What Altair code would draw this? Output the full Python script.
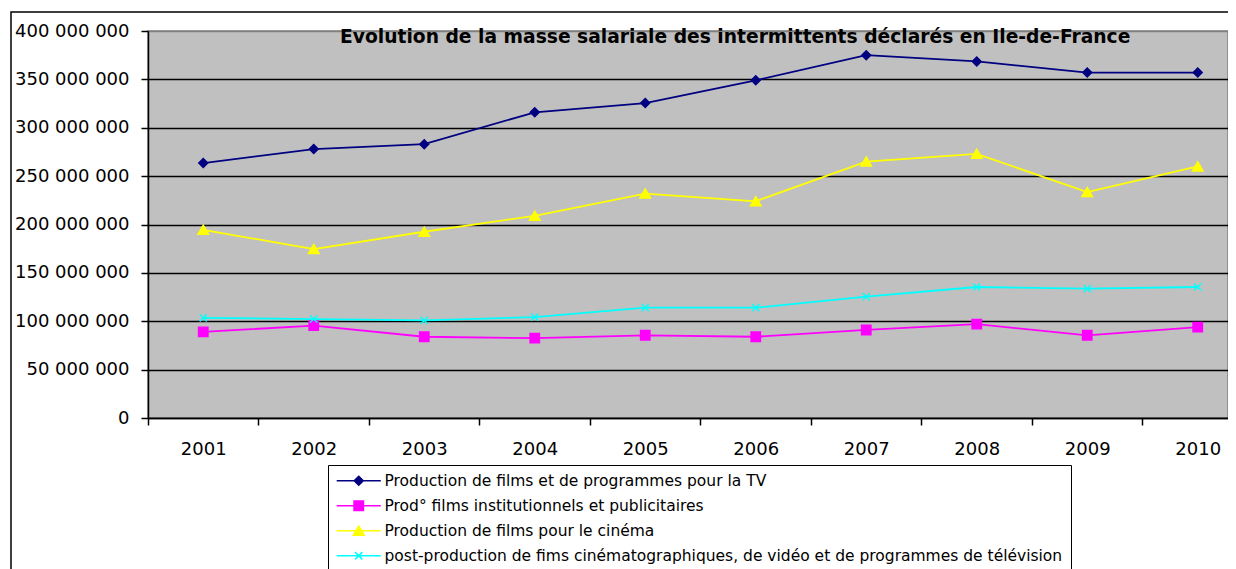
import altair as alt
import pandas as pd

years = [2001, 2002, 2003, 2004, 2005, 2006, 2007, 2008, 2009, 2010]
series_names = [
    "Production de films et de programmes pour la TV",
    "Prod° films institutionnels et publicitaires",
    "Production de films pour le cinéma",
    "post-production de fims cinématographiques, de vidéo et de programmes de télévision",
]
tv = [263.5e6, 278e6, 283e6, 316e6, 325.5e6, 349e6, 375e6, 368.5e6, 357e6, 357e6]
prod_inst = [89e6, 95.5e6, 84e6, 82.5e6, 85.5e6, 84e6, 91e6, 97e6, 85.5e6, 94e6]
cinema = [194.5e6, 174.5e6, 192.5e6, 209e6, 232e6, 224e6, 265e6, 273e6, 233.5e6, 260e6]
post_prod = [103.5e6, 102.3e6, 101e6, 104.3e6, 114e6, 114e6, 125.4e6, 135.4e6, 133.7e6, 135.4e6]

series_values = [tv, prod_inst, cinema, post_prod]
colors = ["#000080", "#FF00FF", "#FFFF00", "#00FFFF"]

# marker shapes (plot) and legend shapes (marker with a line through it)
shapes = [
    "M0,-1L1,0L0,1L-1,0Z",
    "M-1.05,-1.05L1.05,-1.05L1.05,1.05L-1.05,1.05Z",
    "M0,-1.05L1.2,1L-1.2,1Z",
    "M-0.8,-0.8L0.8,0.8M-0.8,0.8L0.8,-0.8",
]
legend_shapes = ["M-4.9,0L4.9,0" + s for s in shapes]

rows = []
for name, vals in zip(series_names, series_values):
    for y, v in zip(years, vals):
        rows.append({"year": y, "series": name, "value": v})
df = pd.DataFrame(rows)

x_ticks = [2000.5 + 0.5 * i for i in range(20)]

x_enc = alt.X(
    "year:Q",
    scale=alt.Scale(domain=[2000.5, 2010.274], nice=False, zero=False),
    axis=alt.Axis(
        title=None,
        values=x_ticks,
        labelExpr="datum.value % 1 === 0 ? toString(datum.value) : ''",
        tickOpacity={"condition": {"test": "datum.value % 1 === 0", "value": 0}, "value": 1},
        grid=False,
        labelOverlap=False,
        labelFlush=False,
        labelFont="DejaVu Sans",
        labelFontSize=18,
        labelColor="black",
        labelPadding=15,
        tickColor="black",
        tickSize=7,
        tickWidth=1.5,
        domainColor="black",
        domainWidth=1.5,
    ),
)
y_enc = alt.Y(
    "value:Q",
    scale=alt.Scale(domain=[0, 400e6], nice=False),
    axis=alt.Axis(
        title=None,
        values=[i * 50e6 for i in range(9)],
        format=",d",
        grid=True,
        gridColor={"condition": {"test": "datum.value >= 400000000", "value": "#808080"}, "value": "black"},
        gridWidth=1.3,
        labelFont="DejaVu Sans",
        labelFontSize=18,
        labelColor="black",
        labelPadding=12,
        tickColor="black",
        tickSize=7,
        tickWidth=1.5,
        domainColor="black",
        domainWidth=1.5,
    ),
)

color_scale = alt.Scale(domain=series_names, range=colors)

legend_def = alt.Legend(
    title=None,
    orient="none",
    legendX=180,
    legendY=434,
    padding=8,
    strokeColor="black",
    fillColor="white",
    labelFont="DejaVu Sans",
    labelFontSize=15.5,
    labelColor="black",
    labelLimit=900,
    symbolSize=81,
    symbolStrokeWidth=1.5,
    symbolOffset=15,
    labelOffset=18,
    rowPadding=8,
    cornerRadius=0,
)

# empty layer that only carries the legend (marker with line through it)
legend_layer = alt.Chart(df).transform_filter("false").mark_point(
    filled=True, size=81, strokeWidth=1.5, opacity=1
).encode(
    x=x_enc, y=y_enc,
    fill=alt.Fill("series:N", scale=color_scale, legend=legend_def),
    stroke=alt.Stroke("series:N", scale=color_scale, legend=legend_def),
    shape=alt.Shape("series:N", scale=alt.Scale(domain=series_names, range=legend_shapes), legend=legend_def),
)

frame = alt.Chart(alt.Data(values=[{}])).mark_rect(
    filled=False, color="black", strokeWidth=1.5
).encode(
    x=alt.value(-137), x2=alt.value(1300), y=alt.value(-19), y2=alt.value(700)
)

lines = alt.Chart(df).mark_line(strokeWidth=1.8).encode(
    x=x_enc, y=y_enc,
    color=alt.Color("series:N", scale=color_scale),
    detail="series:N",
)

point_layers = []
for name, shp in zip(series_names, shapes):
    point_layers.append(
        alt.Chart(df).transform_filter(alt.datum.series == name).mark_point(
            filled=True, size=81, strokeWidth=1.4, opacity=1, shape=shp
        ).encode(
            x=x_enc, y=y_enc,
            fill=alt.Fill("series:N", scale=color_scale),
            stroke=alt.Stroke("series:N", scale=color_scale),
        )
    )

chart = alt.layer(legend_layer, frame, lines, *point_layers).properties(
    width=1080,
    height=387,
    autosize=alt.AutoSizeParams(type="none"),
    padding={"left": 140, "top": 23, "right": 0, "bottom": 151},
    title=alt.Title(
        "Evolution de la masse salariale des intermittents déclarés en Ile-de-France",
        anchor="start",
        frame="group",
        dx=192,
        dy=50,
        offset=0,
        baseline="alphabetic",
        font="DejaVu Sans",
        fontSize=18.7,
        fontWeight="bold",
        color="black",
    ),
).configure(
    locale={"number": {"decimal": ",", "thousands": " ", "grouping": [3], "currency": ["", " €"]}}
).configure_view(
    fill="#C0C0C0", stroke="#808080", strokeWidth=1.5
)

chart.save("out.html", embed_options={"renderer": "svg", "actions": False})
